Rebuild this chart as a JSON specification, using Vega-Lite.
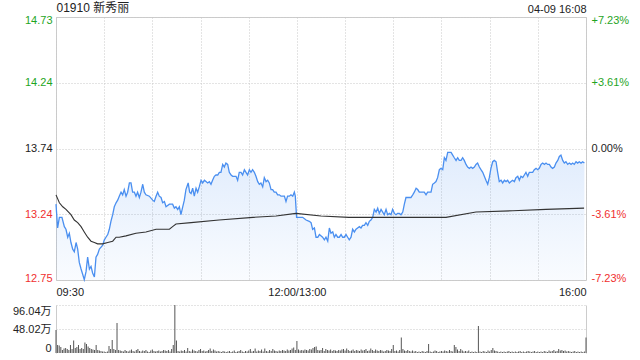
{
"$schema": "https://vega.github.io/schema/vega-lite/v6.json",
"padding": {"left": 12, "top": 0, "right": 6, "bottom": 0},
"autosize": {"type": "pad"},
"bounds": "flush",
"spacing": 25,
"config": {"font": "Liberation Sans, Noto Sans CJK SC", "view": {"stroke": null}, "axis": {"labelFont": "Liberation Sans, Noto Sans CJK SC", "labelFontSize": 11, "title": null}},
"resolve": {"scale": {"x": "independent", "y": "independent"}},
"datasets": {
"price": [
{"t":0,"p":13.32},{"t":1.0,"p":13.14},{"t":2.1,"p":13.22},{"t":3.7,"p":13.22},{"t":5.2,"p":13.15},{"t":6.2,"p":13.13},{"t":7.3,"p":13.07},{"t":8.3,"p":13.10},{"t":9.3,"p":13.03},{"t":10.4,"p":12.98},{"t":11.4,"p":12.96},{"t":12.5,"p":13.03},{"t":13.5,"p":12.98},{"t":14.5,"p":12.88},{"t":15.6,"p":12.83},{"t":16.6,"p":12.79},{"t":17.6,"p":12.75},{"t":18.7,"p":12.81},{"t":19.7,"p":12.92},{"t":20.8,"p":12.83},{"t":21.8,"p":12.85},{"t":22.8,"p":12.80},{"t":23.9,"p":12.77},{"t":24.9,"p":12.92},{"t":25.9,"p":12.94},{"t":27.0,"p":12.98},{"t":29.1,"p":13.01},{"t":30.1,"p":13.05},{"t":31.1,"p":13.07},{"t":32.2,"p":13.09},{"t":33.2,"p":13.13},{"t":34.2,"p":13.19},{"t":35.3,"p":13.24},{"t":36.3,"p":13.30},{"t":37.4,"p":13.33},{"t":38.4,"p":13.35},{"t":39.4,"p":13.38},{"t":40.5,"p":13.41},{"t":41.5,"p":13.39},{"t":42.5,"p":13.43},{"t":43.6,"p":13.38},{"t":44.6,"p":13.41},{"t":45.7,"p":13.48},{"t":46.7,"p":13.48},{"t":47.7,"p":13.41},{"t":48.8,"p":13.41},{"t":49.8,"p":13.38},{"t":50.8,"p":13.41},{"t":51.9,"p":13.37},{"t":52.9,"p":13.41},{"t":54.0,"p":13.47},{"t":55.0,"p":13.41},{"t":56.0,"p":13.39},{"t":58.1,"p":13.38},{"t":60.2,"p":13.35},{"t":61.2,"p":13.34},{"t":62.3,"p":13.38},{"t":63.3,"p":13.41},{"t":64.3,"p":13.38},{"t":65.4,"p":13.37},{"t":66.4,"p":13.33},{"t":67.5,"p":13.34},{"t":68.5,"p":13.30},{"t":70.6,"p":13.32},{"t":72.6,"p":13.32},{"t":73.7,"p":13.29},{"t":74.7,"p":13.30},{"t":75.8,"p":13.28},{"t":76.8,"p":13.30},{"t":77.8,"p":13.24},{"t":78.9,"p":13.30},{"t":79.9,"p":13.35},{"t":80.9,"p":13.43},{"t":82.3,"p":13.48},{"t":83.2,"p":13.41},{"t":84.1,"p":13.40},{"t":85.1,"p":13.44},{"t":86.1,"p":13.38},{"t":87.2,"p":13.44},{"t":88.2,"p":13.41},{"t":89.2,"p":13.45},{"t":90.3,"p":13.50},{"t":91.3,"p":13.48},{"t":92.4,"p":13.50},{"t":93.4,"p":13.49},{"t":94.4,"p":13.48},{"t":95.5,"p":13.49},{"t":96.5,"p":13.47},{"t":97.5,"p":13.50},{"t":98.6,"p":13.53},{"t":99.6,"p":13.54},{"t":100.7,"p":13.54},{"t":101.7,"p":13.56},{"t":102.7,"p":13.56},{"t":103.8,"p":13.62},{"t":104.8,"p":13.60},{"t":105.8,"p":13.63},{"t":106.9,"p":13.62},{"t":107.9,"p":13.56},{"t":109.0,"p":13.54},{"t":110.0,"p":13.53},{"t":111.0,"p":13.53},{"t":112.1,"p":13.53},{"t":113.1,"p":13.50},{"t":114.1,"p":13.56},{"t":115.2,"p":13.56},{"t":116.2,"p":13.54},{"t":117.3,"p":13.58},{"t":118.3,"p":13.56},{"t":119.3,"p":13.54},{"t":120.4,"p":13.58},{"t":121.4,"p":13.56},{"t":122.4,"p":13.58},{"t":123.5,"p":13.56},{"t":124.5,"p":13.53},{"t":125.6,"p":13.49},{"t":126.6,"p":13.47},{"t":127.6,"p":13.48},{"t":128.7,"p":13.45},{"t":129.7,"p":13.52},{"t":130.8,"p":13.49},{"t":131.8,"p":13.50},{"t":132.8,"p":13.48},{"t":133.9,"p":13.43},{"t":134.9,"p":13.43},{"t":135.9,"p":13.41},{"t":137.0,"p":13.41},{"t":138.0,"p":13.39},{"t":139.1,"p":13.39},{"t":140.1,"p":13.38},{"t":142.2,"p":13.38},{"t":143.2,"p":13.34},{"t":144.2,"p":13.38},{"t":145.3,"p":13.38},{"t":146.3,"p":13.39},{"t":147.4,"p":13.38},{"t":148.4,"p":13.41},{"t":149.0,"p":13.38},{"t":149.8,"p":13.22},{"t":151.5,"p":13.22},{"t":153.6,"p":13.22},{"t":155.7,"p":13.20},{"t":157.7,"p":13.19},{"t":158.8,"p":13.18},{"t":159.8,"p":13.13},{"t":160.9,"p":13.14},{"t":161.9,"p":13.07},{"t":163.0,"p":13.07},{"t":164.0,"p":13.09},{"t":166.0,"p":13.07},{"t":167.1,"p":13.05},{"t":168.1,"p":13.07},{"t":169.2,"p":13.04},{"t":170.2,"p":13.14},{"t":171.2,"p":13.10},{"t":172.3,"p":13.11},{"t":173.3,"p":13.07},{"t":174.3,"p":13.09},{"t":175.4,"p":13.07},{"t":176.4,"p":13.07},{"t":177.5,"p":13.09},{"t":178.5,"p":13.07},{"t":179.5,"p":13.07},{"t":180.6,"p":13.09},{"t":181.6,"p":13.07},{"t":182.6,"p":13.05},{"t":183.7,"p":13.07},{"t":184.7,"p":13.13},{"t":185.8,"p":13.11},{"t":186.8,"p":13.13},{"t":187.8,"p":13.14},{"t":188.9,"p":13.15},{"t":189.9,"p":13.14},{"t":190.9,"p":13.16},{"t":192.0,"p":13.16},{"t":193.0,"p":13.18},{"t":194.1,"p":13.16},{"t":195.1,"p":13.19},{"t":196.1,"p":13.20},{"t":197.2,"p":13.22},{"t":198.2,"p":13.28},{"t":199.3,"p":13.26},{"t":200.3,"p":13.29},{"t":201.3,"p":13.25},{"t":202.4,"p":13.28},{"t":203.4,"p":13.26},{"t":204.4,"p":13.24},{"t":205.5,"p":13.28},{"t":206.5,"p":13.24},{"t":207.6,"p":13.25},{"t":208.6,"p":13.24},{"t":209.6,"p":13.28},{"t":210.7,"p":13.25},{"t":211.7,"p":13.24},{"t":212.7,"p":13.25},{"t":213.8,"p":13.25},{"t":214.8,"p":13.24},{"t":215.9,"p":13.26},{"t":216.9,"p":13.32},{"t":217.9,"p":13.37},{"t":221.0,"p":13.37},{"t":222.1,"p":13.39},{"t":223.1,"p":13.41},{"t":224.2,"p":13.44},{"t":225.2,"p":13.43},{"t":226.2,"p":13.41},{"t":227.3,"p":13.41},{"t":228.3,"p":13.41},{"t":229.3,"p":13.41},{"t":230.4,"p":13.39},{"t":231.4,"p":13.41},{"t":233.5,"p":13.41},{"t":234.5,"p":13.47},{"t":235.6,"p":13.48},{"t":236.6,"p":13.49},{"t":237.6,"p":13.52},{"t":238.7,"p":13.58},{"t":239.7,"p":13.59},{"t":240.8,"p":13.58},{"t":241.8,"p":13.67},{"t":242.8,"p":13.65},{"t":243.9,"p":13.71},{"t":244.9,"p":13.71},{"t":246.0,"p":13.71},{"t":247.0,"p":13.69},{"t":248.0,"p":13.67},{"t":249.1,"p":13.65},{"t":250.1,"p":13.67},{"t":251.1,"p":13.65},{"t":252.2,"p":13.65},{"t":253.2,"p":13.67},{"t":254.2,"p":13.65},{"t":255.3,"p":13.62},{"t":256.3,"p":13.60},{"t":257.4,"p":13.59},{"t":258.4,"p":13.60},{"t":259.4,"p":13.59},{"t":260.5,"p":13.60},{"t":261.5,"p":13.62},{"t":262.5,"p":13.63},{"t":263.6,"p":13.60},{"t":264.6,"p":13.58},{"t":265.7,"p":13.56},{"t":266.7,"p":13.53},{"t":267.7,"p":13.50},{"t":268.8,"p":13.47},{"t":269.8,"p":13.52},{"t":270.8,"p":13.59},{"t":271.9,"p":13.64},{"t":272.9,"p":13.65},{"t":274.0,"p":13.64},{"t":275.0,"p":13.56},{"t":276.0,"p":13.49},{"t":277.1,"p":13.50},{"t":278.1,"p":13.48},{"t":279.2,"p":13.50},{"t":280.2,"p":13.49},{"t":281.2,"p":13.50},{"t":282.3,"p":13.48},{"t":283.3,"p":13.49},{"t":284.3,"p":13.50},{"t":285.4,"p":13.49},{"t":286.4,"p":13.52},{"t":287.5,"p":13.53},{"t":288.5,"p":13.50},{"t":289.5,"p":13.53},{"t":290.6,"p":13.52},{"t":291.6,"p":13.54},{"t":292.6,"p":13.56},{"t":293.7,"p":13.53},{"t":294.7,"p":13.56},{"t":295.8,"p":13.56},{"t":296.8,"p":13.56},{"t":297.8,"p":13.58},{"t":298.9,"p":13.59},{"t":299.9,"p":13.58},{"t":300.9,"p":13.59},{"t":302.0,"p":13.62},{"t":303.0,"p":13.63},{"t":304.1,"p":13.62},{"t":305.1,"p":13.63},{"t":306.1,"p":13.62},{"t":307.2,"p":13.62},{"t":308.2,"p":13.60},{"t":309.2,"p":13.59},{"t":310.3,"p":13.60},{"t":311.3,"p":13.63},{"t":312.4,"p":13.65},{"t":313.4,"p":13.68},{"t":314.4,"p":13.69},{"t":315.5,"p":13.65},{"t":316.5,"p":13.63},{"t":317.5,"p":13.64},{"t":318.6,"p":13.62},{"t":319.6,"p":13.63},{"t":320.7,"p":13.62},{"t":321.7,"p":13.63},{"t":322.7,"p":13.62},{"t":323.8,"p":13.64},{"t":324.8,"p":13.63},{"t":325.8,"p":13.64},{"t":326.9,"p":13.63},{"t":327.9,"p":13.64},{"t":329.0,"p":13.63}
],
"avg": [
{"t":0,"a":13.39},{"t":2.1,"a":13.33},{"t":4.2,"a":13.30},{"t":6.2,"a":13.28},{"t":9.3,"a":13.24},{"t":11.4,"a":13.20},{"t":13.5,"a":13.18},{"t":15.6,"a":13.15},{"t":17.6,"a":13.11},{"t":19.7,"a":13.07},{"t":21.8,"a":13.04},{"t":23.9,"a":13.03},{"t":25.9,"a":13.02},{"t":29.1,"a":13.02},{"t":32.2,"a":13.03},{"t":35.3,"a":13.04},{"t":37.4,"a":13.07},{"t":39.4,"a":13.07},{"t":43.6,"a":13.08},{"t":49.8,"a":13.10},{"t":56.0,"a":13.11},{"t":62.3,"a":13.13},{"t":70.6,"a":13.13},{"t":72.6,"a":13.15},{"t":74.7,"a":13.17},{"t":84.1,"a":13.18},{"t":101.5,"a":13.20},{"t":122.7,"a":13.22},{"t":137.0,"a":13.23},{"t":149.4,"a":13.25},{"t":165.0,"a":13.23},{"t":182.4,"a":13.22},{"t":203.6,"a":13.22},{"t":224.2,"a":13.22},{"t":242.8,"a":13.22},{"t":261.5,"a":13.26},{"t":284.5,"a":13.27},{"t":305.1,"a":13.28},{"t":328.8,"a":13.29}
],
"vol": [
{"t":0,"v":46},{"t":1,"v":16},{"t":2,"v":15},{"t":3,"v":12},{"t":4,"v":6},{"t":5,"v":9},{"t":6,"v":10},{"t":7,"v":8},{"t":8,"v":6},{"t":9,"v":16},{"t":10,"v":8},{"t":11,"v":25},{"t":12,"v":10},{"t":13,"v":12},{"t":14,"v":16},{"t":15,"v":8},{"t":16,"v":10},{"t":17,"v":8},{"t":18,"v":21},{"t":19,"v":18},{"t":20,"v":13},{"t":21,"v":10},{"t":22,"v":8},{"t":23,"v":7},{"t":24,"v":6},{"t":25,"v":16},{"t":26,"v":6},{"t":27,"v":5},{"t":28,"v":4},{"t":29,"v":3},{"t":30,"v":3},{"t":31,"v":2},{"t":32,"v":3},{"t":33,"v":14},{"t":34,"v":8},{"t":35,"v":26},{"t":36,"v":8},{"t":37,"v":6},{"t":38,"v":60},{"t":39,"v":6},{"t":40,"v":5},
{"t":41,"v":4},{"t":42,"v":3},{"t":43,"v":6},{"t":44,"v":4},{"t":45,"v":3},{"t":46,"v":5},{"t":47,"v":7},{"t":48,"v":4},{"t":49,"v":3},{"t":50,"v":6},{"t":51,"v":8},{"t":52,"v":4},{"t":53,"v":3},{"t":54,"v":5},{"t":55,"v":4},{"t":56,"v":6},{"t":57,"v":3},{"t":58,"v":2},{"t":59,"v":5},{"t":60,"v":7},{"t":61,"v":4},{"t":62,"v":3},{"t":63,"v":4},{"t":64,"v":5},{"t":65,"v":3},{"t":66,"v":4},{"t":67,"v":6},{"t":68,"v":5},{"t":69,"v":4},{"t":70,"v":6},{"t":71,"v":3},{"t":72,"v":8},{"t":73,"v":16},{"t":74,"v":96.04},{"t":75,"v":25},
{"t":76,"v":4},{"t":77,"v":3},{"t":78,"v":5},{"t":79,"v":4},{"t":80,"v":6},{"t":81,"v":3},{"t":82,"v":10},{"t":83,"v":4},{"t":84,"v":3},{"t":85,"v":7},{"t":86,"v":5},{"t":87,"v":4},{"t":88,"v":3},{"t":89,"v":6},{"t":90,"v":8},{"t":91,"v":4},{"t":92,"v":5},{"t":93,"v":3},{"t":94,"v":4},{"t":95,"v":6},{"t":96,"v":9},{"t":97,"v":4},{"t":98,"v":7},{"t":99,"v":5},{"t":100,"v":3},{"t":101,"v":4},{"t":102,"v":3},{"t":103,"v":2},{"t":104,"v":4},{"t":105,"v":3},{"t":106,"v":2},{"t":107,"v":3},{"t":108,"v":4},{"t":109,"v":2},{"t":110,"v":3},{"t":111,"v":5},{"t":112,"v":2},{"t":113,"v":3},{"t":114,"v":4},{"t":115,"v":6},{"t":116,"v":3},{"t":117,"v":2},{"t":118,"v":4},{"t":119,"v":3},{"t":120,"v":5},{"t":121,"v":8},{"t":122,"v":3},{"t":123,"v":4},{"t":124,"v":9},{"t":125,"v":3},{"t":126,"v":5},{"t":127,"v":4},{"t":128,"v":7},{"t":129,"v":3},{"t":130,"v":9},{"t":131,"v":4},{"t":132,"v":3},{"t":133,"v":6},{"t":134,"v":4},{"t":135,"v":8},{"t":136,"v":5},{"t":137,"v":4},{"t":138,"v":3},{"t":139,"v":5},{"t":140,"v":4},{"t":141,"v":6},{"t":142,"v":5},{"t":143,"v":4},{"t":144,"v":7},{"t":145,"v":5},{"t":146,"v":6},{"t":147,"v":9},{"t":148,"v":11},{"t":149,"v":6},
{"t":150,"v":24},{"t":151,"v":7},{"t":152,"v":5},{"t":153,"v":6},{"t":154,"v":5},{"t":155,"v":7},{"t":156,"v":6},{"t":157,"v":5},{"t":158,"v":8},{"t":159,"v":7},{"t":160,"v":10},{"t":161,"v":12},{"t":162,"v":13},{"t":163,"v":6},{"t":164,"v":5},{"t":165,"v":6},{"t":166,"v":10},{"t":167,"v":4},{"t":168,"v":8},{"t":169,"v":6},{"t":170,"v":5},{"t":171,"v":7},{"t":172,"v":4},{"t":173,"v":6},{"t":174,"v":5},{"t":175,"v":4},{"t":176,"v":6},{"t":177,"v":5},{"t":178,"v":7},{"t":179,"v":8},{"t":180,"v":5},{"t":181,"v":9},{"t":182,"v":6},{"t":183,"v":4},{"t":184,"v":5},{"t":185,"v":7},{"t":186,"v":4},{"t":187,"v":6},{"t":188,"v":5},{"t":189,"v":4},{"t":190,"v":7},{"t":191,"v":5},{"t":192,"v":6},{"t":193,"v":8},{"t":194,"v":4},{"t":195,"v":5},{"t":196,"v":9},{"t":197,"v":6},{"t":198,"v":4},{"t":199,"v":7},{"t":200,"v":5},{"t":201,"v":4},{"t":202,"v":6},{"t":203,"v":5},{"t":204,"v":3},{"t":205,"v":4},{"t":206,"v":6},{"t":207,"v":5},{"t":208,"v":4},{"t":209,"v":8},{"t":210,"v":16},{"t":211,"v":4},{"t":212,"v":5},{"t":213,"v":3},{"t":214,"v":6},{"t":215,"v":31},{"t":216,"v":8},{"t":217,"v":5},{"t":218,"v":4},{"t":219,"v":6},{"t":220,"v":4},{"t":221,"v":3},{"t":222,"v":5},{"t":223,"v":3},{"t":224,"v":4},{"t":225,"v":2},{"t":226,"v":3},{"t":227,"v":2},{"t":228,"v":4},{"t":229,"v":3},{"t":230,"v":2},{"t":231,"v":4},{"t":232,"v":18},{"t":233,"v":3},{"t":234,"v":2},{"t":235,"v":3},{"t":236,"v":5},{"t":237,"v":4},{"t":238,"v":2},{"t":239,"v":3},{"t":240,"v":4},{"t":241,"v":3},{"t":242,"v":5},{"t":243,"v":4},{"t":244,"v":3},{"t":245,"v":6},{"t":246,"v":4},{"t":247,"v":3},{"t":248,"v":16},{"t":249,"v":12},{"t":250,"v":7},{"t":251,"v":4},{"t":252,"v":8},{"t":253,"v":5},{"t":254,"v":3},{"t":255,"v":4},{"t":256,"v":3},{"t":257,"v":5},{"t":258,"v":2},{"t":259,"v":3},{"t":260,"v":2},{"t":261,"v":3},{"t":262,"v":2},{"t":263,"v":54},{"t":264,"v":3},{"t":265,"v":2},{"t":266,"v":4},{"t":267,"v":3},{"t":268,"v":2},{"t":269,"v":5},{"t":270,"v":3},{"t":271,"v":6},{"t":272,"v":10},{"t":273,"v":5},{"t":274,"v":4},{"t":275,"v":3},{"t":276,"v":2},{"t":277,"v":3},{"t":278,"v":2},{"t":279,"v":3},{"t":280,"v":2},{"t":281,"v":3},{"t":282,"v":4},{"t":283,"v":2},{"t":284,"v":3},{"t":285,"v":2},{"t":286,"v":3},{"t":287,"v":2},{"t":288,"v":3},{"t":289,"v":4},{"t":290,"v":2},{"t":291,"v":3},{"t":292,"v":2},{"t":293,"v":3},{"t":294,"v":4},{"t":295,"v":3},{"t":296,"v":2},{"t":297,"v":3},{"t":298,"v":4},{"t":299,"v":2},{"t":300,"v":3},{"t":301,"v":2},{"t":302,"v":3},{"t":303,"v":2},{"t":304,"v":4},{"t":305,"v":3},{"t":306,"v":2},{"t":307,"v":5},{"t":308,"v":3},{"t":309,"v":4},{"t":310,"v":6},{"t":311,"v":3},{"t":312,"v":4},{"t":313,"v":8},{"t":314,"v":5},{"t":315,"v":6},{"t":316,"v":4},{"t":317,"v":5},{"t":318,"v":3},{"t":319,"v":4},{"t":320,"v":3},{"t":321,"v":2},{"t":322,"v":3},{"t":323,"v":4},{"t":324,"v":2},{"t":325,"v":3},{"t":326,"v":2},{"t":327,"v":3},{"t":328,"v":2},{"t":329,"v":3},{"t":330,"v":31}
]
},
"vconcat": [
{
"width": 530, "height": 263,
"view": {"stroke": "#cccccc"},
"resolve": {"axis": {"x": "independent", "y": "independent"}},
"layer": [
{
"data": {"name": "price"},
"mark": {"type": "area", "color": {"gradient": "linear", "x1": 0, "y1": 0, "x2": 0, "y2": 1, "stops": [{"offset": 0, "color": "rgba(74,143,240,0.17)"}, {"offset": 1, "color": "rgba(74,143,240,0.03)"}]}},
"encoding": {
"x": {"field": "t", "type": "quantitative", "scale": {"domain": [0, 330], "nice": false, "zero": false},
 "axis": {"orient": "bottom", "values": [0,30,60,90,120,150,180,210,240,270,300,330], "labelExpr": "datum.value == 0 ? '09:30' : datum.value == 150 ? '12:00/13:00' : datum.value == 330 ? '16:00' : ''", "labelFlush": true, "labelPadding": 6, "ticks": false, "tickSize": 0, "domain": false, "grid": true, "gridColor": "#c8c8c8", "gridDash": [1, 2], "labelColor": "#222222"}},
"y": {"field": "p", "type": "quantitative", "scale": {"domain": [12.747, 14.733], "nice": false, "zero": false},
 "axis": {"orient": "left", "values": [12.747, 13.244, 13.74, 14.236, 14.733], "format": ".2f", "labelFlush": true, "labelFlushOffset": 3, "labelPadding": 4, "ticks": false, "tickSize": 0, "domain": false, "grid": true, "gridColor": "#c8c8c8", "gridDash": [1, 2],
  "labelColor": {"condition": [{"test": "datum.value > 13.741", "value": "#1fa51f"}, {"test": "datum.value < 13.739", "value": "#f03030"}], "value": "#222222"}}},
"y2": {"datum": 12.747}
}
},
{
"data": {"name": "price"},
"mark": {"type": "line", "color": "#4a8ff0", "strokeWidth": 1.3},
"encoding": {
"x": {"field": "t", "type": "quantitative",
 "axis": {"orient": "top", "values": [0, 330], "labelExpr": "datum.value == 0 ? '01910 新秀丽' : '04-09 16:08'", "labelFlush": true, "labelPadding": 3, "ticks": false, "tickSize": 0, "domain": false, "grid": false, "labelColor": "#222222",
  "labelFontSize": {"condition": {"test": "datum.value == 0", "value": 12}, "value": 11}}},
"y": {"field": "p", "type": "quantitative",
 "axis": {"orient": "right", "values": [12.747, 13.244, 13.74, 14.236, 14.733], "labelExpr": "(datum.value > 13.741 ? '+' : datum.value < 13.739 ? '-' : '') + format(abs(datum.value / 13.74 - 1) * 100, '.2f') + '%'", "labelFlush": true, "labelFlushOffset": 3, "labelPadding": 5, "ticks": false, "tickSize": 0, "domain": false, "grid": false,
  "labelColor": {"condition": [{"test": "datum.value > 13.741", "value": "#1fa51f"}, {"test": "datum.value < 13.739", "value": "#f03030"}], "value": "#222222"}}}
}
},
{
"data": {"name": "avg"},
"mark": {"type": "line", "color": "#333333", "strokeWidth": 1.1},
"encoding": {
"x": {"field": "t", "type": "quantitative", "axis": null},
"y": {"field": "a", "type": "quantitative", "axis": null}
}
}
]
},
{
"width": 530, "height": 48,
"data": {"name": "vol"},
"resolve": {"axis": {"y": "independent"}},
"layer": [
{
"mark": {"type": "rule", "color": "#555555", "strokeWidth": 1},
"encoding": {
"x": {"field": "t", "type": "quantitative", "scale": {"domain": [0, 330], "nice": false, "zero": false}, "axis": null},
"y": {"field": "v", "type": "quantitative", "scale": {"domain": [0, 96.04], "nice": false},
 "axis": {"orient": "left", "values": [0, 48.02, 96.04], "labelExpr": "datum.value == 0 ? '0' : format(datum.value, '.2f') + '万'", "labelFlush": true, "labelPadding": 5, "labelColor": "#222222", "ticks": false, "tickSize": 0, "domain": true, "domainColor": "#cccccc", "grid": true, "gridColor": "#c8c8c8", "gridDash": [1, 2], "gridOpacity": {"condition": {"test": "datum.value == 0", "value": 0}, "value": 1}}},
"y2": {"datum": 0}
}
},
{
"mark": {"type": "rule", "opacity": 0},
"encoding": {
"x": {"field": "t", "type": "quantitative", "axis": null},
"y": {"field": "v", "type": "quantitative",
 "axis": {"orient": "right", "labels": false, "ticks": false, "tickSize": 0, "domain": true, "domainColor": "#cccccc", "grid": false}},
"y2": {"datum": 0}
}
}
]
}
]
}
